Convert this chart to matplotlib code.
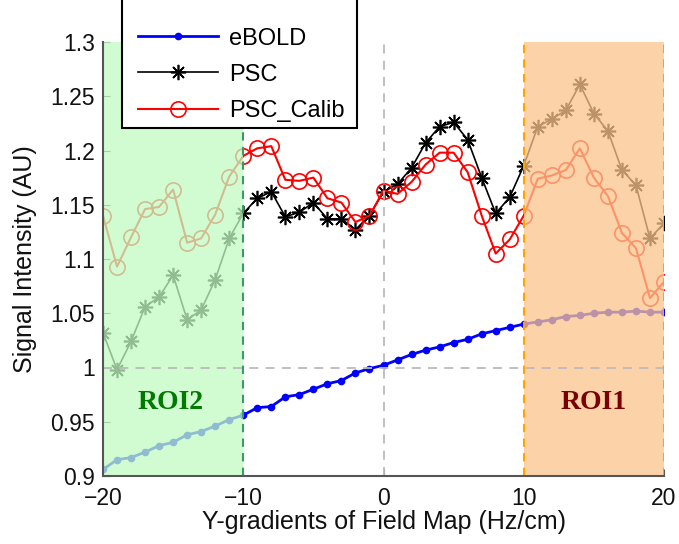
import numpy as np
import matplotlib
matplotlib.use("Agg")
import matplotlib.pyplot as plt
from matplotlib.patches import Rectangle

plt.rcParams["font.family"] = ["Liberation Sans", "DejaVu Sans"]

# Y-gradients (Hz/cm)
x = np.arange(-20, 21)

ebold = [0.906, 0.915, 0.917, 0.922, 0.928, 0.931, 0.938, 0.941, 0.946, 0.952,
         0.956, 0.963, 0.964, 0.973, 0.975, 0.980, 0.985, 0.988, 0.995, 0.999,
         1.002, 1.007, 1.012, 1.016, 1.019, 1.023, 1.026, 1.031, 1.034, 1.037,
         1.040, 1.042, 1.044, 1.047, 1.048, 1.050, 1.051, 1.051, 1.052, 1.051,
         1.051]

psc = [1.032, 0.998, 1.024, 1.056, 1.065, 1.085, 1.044, 1.053, 1.081, 1.119,
       1.142, 1.156, 1.162, 1.139, 1.143, 1.152, 1.137, 1.137, 1.127, 1.140,
       1.162, 1.169, 1.184, 1.207, 1.222, 1.226, 1.210, 1.175, 1.142, 1.157,
       1.186, 1.222, 1.229, 1.237, 1.261, 1.234, 1.218, 1.182, 1.168, 1.119,
       1.133]

psc_calib = [1.140, 1.093, 1.120, 1.146, 1.148, 1.164, 1.115, 1.119, 1.141, 1.176,
             1.195, 1.202, 1.204, 1.173, 1.172, 1.175, 1.156, 1.152, 1.134, 1.140,
             1.163, 1.160, 1.171, 1.187, 1.198, 1.198, 1.180, 1.140, 1.105, 1.118,
             1.140, 1.174, 1.177, 1.182, 1.202, 1.175, 1.158, 1.124, 1.110, 1.064,
             1.079]

roi2 = (-20, -10)
roi1 = (10, 20)

yticks = [0.9, 0.95, 1.0, 1.05, 1.1, 1.15, 1.2, 1.25, 1.3]
ytick_labels = ["0.9", "0.95", "1", "1.05", "1.1", "1.15", "1.2", "1.25", "1.3"]
xticks = [-20, -10, 0, 10, 20]

fig = plt.figure(figsize=(6.79, 5.44), dpi=100)
ax = fig.add_axes([103 / 679, 1 - 476 / 544, 561 / 679, 434 / 544])

# Data
ax.plot(x, ebold, color="#0000ff", marker=".", markersize=9, lw=2,
        label="eBOLD", zorder=2)
ax.plot(x, psc, color="black", marker=(8, 2, 0), markersize=11, mew=1.2,
        lw=1.2, label="PSC", zorder=2)
ax.plot(x, psc_calib, color="#ff0000", marker="o", markersize=11, mfc="none",
        mew=1.2, lw=1.5, label="PSC_Calib", zorder=2)

# ROI shading drawn over the curves
ax.axvspan(*roi2, color=(0.76, 0.99, 0.76), alpha=0.75, lw=0, zorder=3)
ax.axvspan(*roi1, color=(0.99, 0.77, 0.55), alpha=0.75, lw=0, zorder=3)

# Reference lines
ax.axhline(1, color="#bbbbbb", lw=1.3, ls=(0, (5, 4)), zorder=4)
ax.axvline(0, color="#bbbbbb", lw=1.3, ls=(0, (5, 4)), zorder=4)
ax.axvline(-10, color="#3a9a6a", lw=1.5, ls=(0, (4, 3)), zorder=4)
ax.axvline(10, color="#ffa500", lw=1.5, ls=(0, (4, 3)), zorder=4)
ax.axvline(20, color="#ffa500", lw=1.5, ls=(0, (4, 3)), zorder=4)

ax.text(-15.2, 0.968, "ROI2", color="#007a00", fontsize=20, fontweight="bold",
        family="Liberation Serif", ha="center", va="center", zorder=5)
ax.text(15, 0.968, "ROI1", color="#7a0000", fontsize=20, fontweight="bold",
        family="Liberation Serif", ha="center", va="center", zorder=5)

ax.set_xlim(-20, 20)
ax.set_ylim(0.9, 1.3)
ax.set_xticks(xticks)
ax.set_yticks(yticks)
ax.set_yticklabels(ytick_labels)
ax.tick_params(direction="in", length=5, labelsize=16.5, colors="#555555",
               labelcolor="#111111", pad=6)
ax.tick_params(axis="x", pad=8)

for side in ["top", "right"]:
    ax.spines[side].set_visible(False)
for side in ["left", "bottom"]:
    ax.spines[side].set_color("#555555")
    ax.spines[side].set_linewidth(1.5)
    ax.spines[side].set_zorder(5)

ax.set_xlabel("Y-gradients of Field Map (Hz/cm)", fontsize=18, color="#111111")
ax.set_ylabel("Signal Intensity (AU)", fontsize=18, color="#111111")
ax.yaxis.set_label_coords(-0.118, 0.5)
ax.xaxis.set_label_coords(0.5, -0.078)

# Legend: text/handles from the library, frame reaching the top edge
leg = ax.legend(loc="lower left", bbox_to_anchor=(131 / 679, 1 - 129 / 544),
                bbox_transform=fig.transFigure, fontsize=17, frameon=False,
                handlelength=3.4, handletextpad=0.45, labelspacing=0.6,
                borderpad=0.3, borderaxespad=0)
leg.set_zorder(10)
frame = Rectangle((122 / 679, 1 - 128 / 544), 235 / 679, 130 / 544,
                  transform=fig.transFigure, facecolor="white",
                  edgecolor="black", lw=1.5, clip_on=False, zorder=9)
ax.add_patch(frame)

plt.savefig("out.png", dpi=100)
plt.close()
